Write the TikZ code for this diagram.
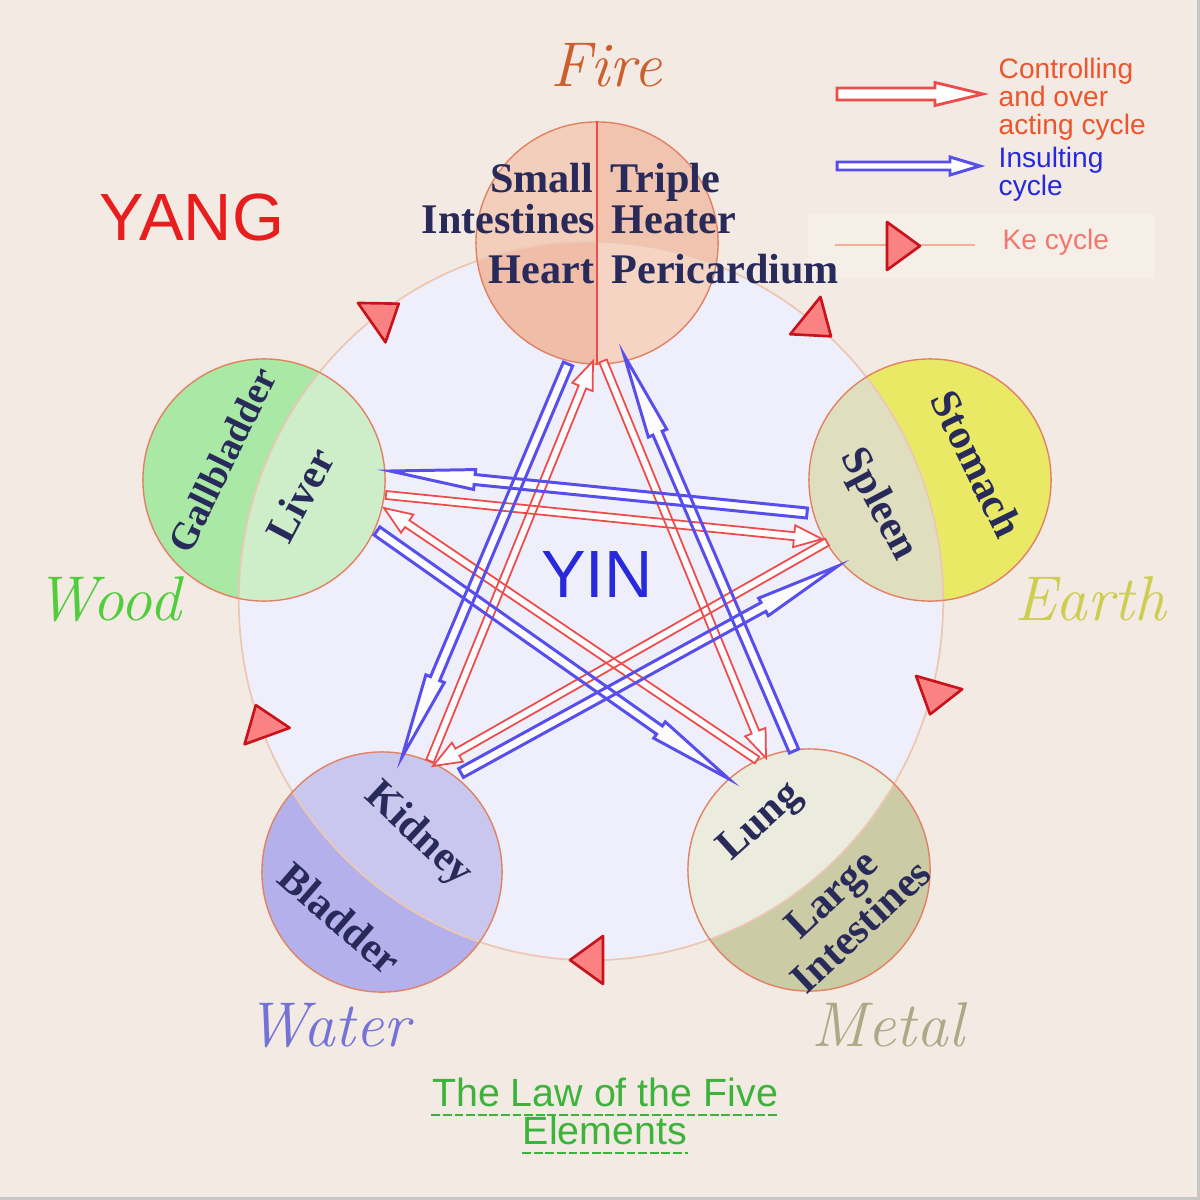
\documentclass[tikz,border=0pt]{standalone}
\usepackage{fontspec}
\setsansfont{Liberation Sans}
\newfontfamily\organfont{Liberation Serif}
\usetikzlibrary{calc}
\definecolor{bgc}{RGB}{242,234,227}
\definecolor{yinc}{RGB}{239,239,251}
\definecolor{yinedge}{RGB}{236,200,180}
\definecolor{edgec}{RGB}{225,130,100}
\definecolor{woodout}{RGB}{170,232,165}
\definecolor{woodin}{RGB}{206,238,202}
\definecolor{earthout}{RGB}{233,233,102}
\definecolor{earthin}{RGB}{223,223,192}
\definecolor{waterout}{RGB}{180,176,236}
\definecolor{waterin}{RGB}{201,199,238}
\definecolor{metalout}{RGB}{203,203,165}
\definecolor{metalin}{RGB}{235,235,222}
\definecolor{fireLo}{RGB}{243,206,186}
\definecolor{fireRo}{RGB}{241,196,176}
\definecolor{fireLi}{RGB}{239,189,168}
\definecolor{fireRi}{RGB}{245,212,196}
\definecolor{navy}{RGB}{40,42,90}
\definecolor{redar}{RGB}{238,75,75}
\definecolor{bluear}{RGB}{88,78,236}
\definecolor{trifill}{RGB}{250,130,130}
\definecolor{triedge}{RGB}{200,18,28}
\definecolor{legred}{RGB}{236,86,46}
\definecolor{legblue}{RGB}{40,40,220}
\definecolor{legke}{RGB}{240,120,110}
\definecolor{kebox}{RGB}{246,239,231}
\definecolor{keline}{RGB}{240,175,155}
\definecolor{yangc}{RGB}{232,30,30}
\definecolor{yinc2}{RGB}{40,40,220}
\definecolor{firec}{RGB}{205,95,45}
\definecolor{woodc}{RGB}{80,205,60}
\definecolor{earthc}{RGB}{205,205,80}
\definecolor{waterc}{RGB}{115,115,215}
\definecolor{metalc}{RGB}{170,170,135}
\definecolor{titlec}{RGB}{60,180,60}
\tikzset{
  elemedge/.style={draw=edgec, line width=0.4pt},
  organ/.style={font=\organfont\bfseries\fontsize{12}{12}\selectfont, text=navy, inner sep=0pt},
  elemname/.style={font=\itshape\fontsize{18}{18}\selectfont, inner sep=0pt, anchor=base},
  legtext/.style={font=\sffamily\fontsize{8}{8}\selectfont, inner sep=0pt, anchor=base west},
  kemark/.style={fill=trifill, draw=triedge, line width=0.75pt, line join=round},
  arrfill/.style={fill=white, fill opacity=0.85},
  redline/.style={draw=redar, line width=0.5pt, line join=miter},
  blueline/.style={draw=bluear, line width=0.85pt, line join=miter},
  titleline/.style={draw=titlec, line width=0.6pt, dash pattern=on 2.5pt off 0.8pt},
}
% hollow arrow: #1 style, #2 from, #3 to, #4 shaft half width, #5 head half width, #6 head length
\newcommand\hollowarrow[6]{%
  \coordinate (ha) at (#2);
  \coordinate (hb) at (#3);
  \coordinate (hh) at ($(hb)!#6!(ha)$);
  \path[#1] ($(ha)!#4!90:(hb)$) -- ($(hh)!#4!90:(hb)$) -- ($(hh)!#5!90:(hb)$) -- (hb)
    -- ($(hh)!#5!-90:(hb)$) -- ($(hh)!#4!-90:(hb)$) -- ($(ha)!#4!-90:(hb)$) -- cycle;
}
\newcommand\kemarker[2]{%
  \begin{scope}[shift={(#1)}, rotate=#2]
    \draw[kemark] (18,0) -- (-15,24) -- (-15,-24) -- cycle;
  \end{scope}}
\newcommand\allarrows[2]{%
  % controlling cycle (red)
  \hollowarrow{#1}{rW1}{rF1}{0.04cm}{0.11cm}{0.28cm}
  \hollowarrow{#1}{rF2}{rM2}{0.04cm}{0.11cm}{0.28cm}
  \hollowarrow{#1}{rM3}{rWo3}{0.04cm}{0.11cm}{0.28cm}
  \hollowarrow{#1}{rWo4}{rE4}{0.04cm}{0.11cm}{0.28cm}
  \hollowarrow{#1}{rE5}{rW5}{0.04cm}{0.11cm}{0.28cm}
  % insulting cycle (blue)
  \hollowarrow{#2}{bF1}{bW1}{0.05cm}{0.10cm}{0.85cm}
  \hollowarrow{#2}{bW2}{bE2}{0.05cm}{0.10cm}{0.85cm}
  \hollowarrow{#2}{bE3}{bWo3}{0.05cm}{0.10cm}{0.85cm}
  \hollowarrow{#2}{bWo4}{bM4}{0.05cm}{0.10cm}{0.85cm}
  \hollowarrow{#2}{bM5}{bF5}{0.05cm}{0.10cm}{0.85cm}
}
\begin{document}
\begin{tikzpicture}[x=0.01cm,y=-0.01cm]
\useasboundingbox (0,0) rectangle (1200,1200);
\fill[bgc] (0,0) rectangle (1200,1200);
\draw[black!22, line width=0.9pt] (1198.5,0) -- (1198.5,1198.5) -- (0,1198.5);
% Ke legend box
\fill[kebox] (808,214) rectangle (1155,278);

% yin circle
\coordinate (yin) at (591,601);
\fill[yinc] (yin) ellipse [x radius=3.52cm, y radius=3.59cm];

% element circles
\node[circle, minimum size=2.42cm, inner sep=0pt] (fire) at (597,243) {};
\node[circle, minimum size=2.42cm, fill=woodout, inner sep=0pt] (wood) at (264,480) {};
\node[circle, minimum size=2.42cm, fill=earthout, inner sep=0pt] (earth) at (930,480) {};
\node[circle, minimum size=2.40cm, fill=waterout, inner sep=0pt] (water) at (382,872) {};
\node[circle, minimum size=2.42cm, fill=metalout, inner sep=0pt] (metal) at (809,870) {};
\begin{scope}
  \clip (fire.center) circle [radius=1.21cm];
  \fill[fireLo] (450,100) rectangle (597,400);
  \fill[fireRo] (597,100) rectangle (750,400);
  \clip (yin) ellipse [x radius=3.52cm, y radius=3.59cm];
  \fill[fireLi] (450,100) rectangle (597,400);
  \fill[fireRi] (597,100) rectangle (750,400);
\end{scope}
\begin{scope}
  \clip (yin) ellipse [x radius=3.52cm, y radius=3.59cm];
  \fill[woodin] (wood.center) circle [radius=1.21cm];
  \fill[earthin] (earth.center) circle [radius=1.21cm];
  \fill[waterin] (water.center) circle [radius=1.20cm];
  \fill[metalin] (metal.center) circle [radius=1.21cm];
\end{scope}
\draw[yinedge, line width=0.5pt] (yin) ellipse [x radius=3.52cm, y radius=3.59cm];
\draw[elemedge] (fire.center) circle [radius=1.21cm];
\draw[elemedge] (wood.center) circle [radius=1.21cm];
\draw[elemedge] (earth.center) circle [radius=1.21cm];
\draw[elemedge] (water.center) circle [radius=1.20cm];
\draw[elemedge] (metal.center) circle [radius=1.21cm];
\draw[redar, line width=0.4pt] (fire.north) -- (fire.south);

% Ke cycle markers on the yin circle
\kemarker{384,314}{35}
\kemarker{817,325}{-39}
\kemarker{935,697}{-106}
\kemarker{588,960}{180}
\kemarker{262,722}{110}

% arrow end points
\coordinate (rW1) at (430,761);  \coordinate (rF1) at (593,361);
\coordinate (rF2) at (603,361);  \coordinate (rM2) at (766,758);
\coordinate (rM3) at (757,760);  \coordinate (rWo3) at (384,508);
\coordinate (rWo4) at (386,495); \coordinate (rE4) at (822,539);
\coordinate (rE5) at (827,542);  \coordinate (rW5) at (433,766);
\coordinate (bF1) at (568,364);  \coordinate (bW1) at (402,757);
\coordinate (bW2) at (461,773);  \coordinate (bE2) at (838,566);
\coordinate (bE3) at (807,513);  \coordinate (bWo3) at (390,471);
\coordinate (bWo4) at (377,531); \coordinate (bM4) at (729,779);
\coordinate (bM5) at (794,751);  \coordinate (bF5) at (624,355);
\allarrows{arrfill}{arrfill}
\allarrows{redline}{blueline}

% legend
\coordinate (lr1) at (837,94);  \coordinate (lr2) at (983,94);
\coordinate (lb1) at (837,166); \coordinate (lb2) at (980,166);
\hollowarrow{fill=white, redline, line width=0.8pt}{lr1}{lr2}{0.06cm}{0.115cm}{0.48cm}
\hollowarrow{fill=white, blueline}{lb1}{lb2}{0.04cm}{0.09cm}{0.30cm}
\coordinate (lk1) at (835,245); \coordinate (lk2) at (975,245);
\draw[keline, line width=0.4pt] (lk1) -- (lk2);
\kemarker{902,246}{0}
\node[legtext, text=legred] (c1) at (998,78) {Controlling};
\node[legtext, text=legred] (c2) at (998,106) {and over};
\node[legtext, text=legred] (c3) at (998,134) {acting cycle};
\node[legtext, text=legblue] (i1) at (998,167) {Insulting};
\node[legtext, text=legblue] (i2) at (998,195) {cycle};
\node[legtext, text=legke] (k1) at (1002,249) {Ke cycle};

% organ labels
\node[organ, anchor=base east] (small) at (594,192) {Small};
\node[organ, anchor=base east] (intest) at (596,233) {Intestines};
\node[organ, anchor=base east] (heart) at (595,283) {Heart};
\node[organ, anchor=base west] (triple) at (610,192) {Triple};
\node[organ, anchor=base west] (heater) at (611,233) {Heater};
\node[organ, anchor=base west] (peri) at (611,283) {Pericardium};
\node[organ, font=\organfont\bfseries\fontsize{11}{11}\selectfont, rotate=64] (gall) at (222,460) {Gallbladder};
\node[organ, rotate=62] (liver) at (300,495) {Liver};
\node[organ, rotate=-62] (spleen) at (878,505) {Spleen};
\node[organ, rotate=-64] (stomach) at (977,464) {Stomach};
\node[organ, rotate=-43] (kidney) at (418,835) {Kidney};
\node[organ, rotate=-41] (bladder) at (340,918) {Bladder};
\node[organ, rotate=42] (lung) at (761,823) {Lung};
\node[organ, rotate=43, align=center, font=\organfont\bfseries\fontsize{12}{12.5}\selectfont] (large) at (846,910) {Large\\Intestines};

% element names
\node[elemname, text=firec] (firelbl) at (606,86) {Fire};
\node[elemname, text=woodc] (woodlbl) at (108,620) {Wood};
\node[elemname, text=earthc] (earthlbl) at (1090,620) {Earth};
\node[elemname, text=waterc] (waterlbl) at (328,1046) {Water};
\node[elemname, text=metalc] (metallbl) at (888,1046) {Metal};

% yang / yin
\node[font=\sffamily\fontsize{19}{19}\selectfont, text=yangc, anchor=base, inner sep=0pt] (yang) at (192,240) {YANG};
\node[font=\sffamily\fontsize{19}{19}\selectfont, text=yinc2, anchor=base, inner sep=0pt] (yinlbl) at (597,597) {YIN};

% title
\node[font=\sffamily\fontsize{11.2}{11.2}\selectfont, text=titlec, anchor=base, inner sep=0pt] (title1) at (605,1106) {The Law of the Five};
\node[font=\sffamily\fontsize{11.2}{11.2}\selectfont, text=titlec, anchor=base, inner sep=0pt] (title2) at (605,1144) {Elements};
\draw[titleline] ($(title1.base west)+(0,9)$) -- ($(title1.base east)+(0,9)$);
\draw[titleline] ($(title2.base west)+(0,9)$) -- ($(title2.base east)+(0,9)$);
\end{tikzpicture}
\end{document}
